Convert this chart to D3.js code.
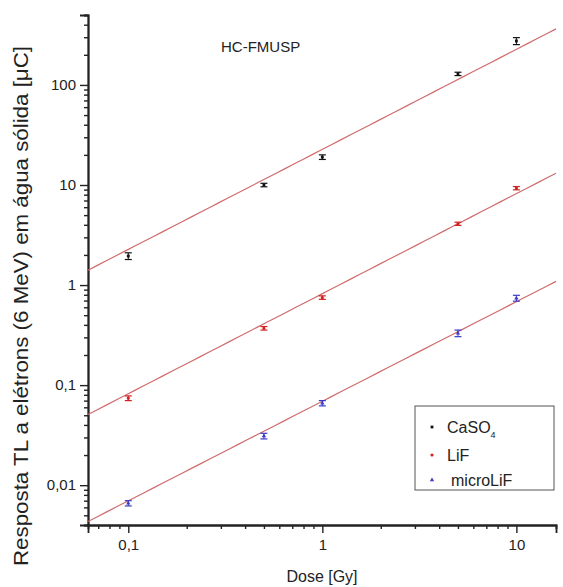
<!DOCTYPE html>
<html><head><meta charset="utf-8">
<script src="https://cdn.jsdelivr.net/npm/d3@7"></script>
<style>body{margin:0;background:#fff}svg{display:block}text{font-family:"Liberation Sans",Arial,sans-serif}</style>
</head><body>
<script>
const doses = [0.1, 0.5, 1, 5, 10];
const seriesNames = ["CaSO4", "LiF", "microLiF"];
const caso4 = [1.95, 10, 19, 129, 275];
const lif = [0.074, 0.37, 0.75, 4.1, 9.3];
const microlif = [0.0066, 0.031, 0.066, 0.33, 0.74];
const caso4Err = [0.15, 0.4, 1.0, 5, 22];
const lifErr = [0.004, 0.015, 0.03, 0.15, 0.35];
const microlifErr = [0.0004, 0.002, 0.004, 0.025, 0.05];
// linear fits y = a * x^b
const fitA = [22.7, 0.82, 0.069];
const fitB = [1.0, 1.0, 0.995];
const xTicksMajor = [0.1, 1, 10];
const xTickLabels = ["0,1", "1", "10"];
const yTicksMajor = [0.01, 0.1, 1, 10, 100];
const yTickLabels = ["0,01", "0,1", "1", "10", "100"];
const colors = ["#111111", "#d42020", "#3a3ac8"];

const W = 563, H = 587;
const svg = d3.select("body").append("svg").attr("width", W).attr("height", H);
const x = d3.scaleLog().domain([0.062, 16]).range([88, 556]);
const y = d3.scaleLog().domain([0.004, 500]).range([525, 15]);

function minorTicks(dom) {
  const out = [];
  for (let e = -4; e <= 3; e++) for (let m = 2; m <= 9; m++) {
    const v = m * Math.pow(10, e);
    if (v >= dom[0] * 0.999 && v <= dom[1] * 1.001) out.push(+v.toPrecision(3));
  }
  return out;
}

const xMinor = d3.axisBottom(x).tickValues(minorTicks(x.domain())).tickSize(4).tickFormat("");
const xMajor = d3.axisBottom(x).tickValues(xTicksMajor).tickSize(8).tickPadding(6)
  .tickFormat((d, i) => xTickLabels[i]);
const yMinor = d3.axisLeft(y).tickValues(minorTicks(y.domain())).tickSize(4).tickFormat("");
const yMajor = d3.axisLeft(y).tickValues(yTicksMajor).tickSize(8).tickPadding(4)
  .tickFormat((d, i) => yTickLabels[i]);

function styleAxis(g) {
  g.select(".domain").attr("stroke", "#222").attr("stroke-width", 1.8);
  g.selectAll(".tick line").attr("stroke", "#222").attr("stroke-width", 1.4);
  g.selectAll(".tick text").attr("fill", "#222").style("font-size", "15px")
    .style("font-family", "'Liberation Sans',Arial,sans-serif");
}
svg.append("g").attr("transform", "translate(0,525)").call(xMinor).call(styleAxis);
svg.append("g").attr("transform", "translate(0,525)").call(xMajor).call(styleAxis);
svg.append("g").attr("transform", "translate(88,0)").call(yMinor).call(styleAxis);
svg.append("g").attr("transform", "translate(88,0)").call(yMajor).call(styleAxis);

// fit lines
const xd = x.domain();
fitA.forEach((a, i) => {
  const pts = d3.range(0, 51).map(k => {
    const xv = Math.pow(10, Math.log10(xd[0]) + k / 50 * (Math.log10(xd[1]) - Math.log10(xd[0])));
    return [xv, a * Math.pow(xv, fitB[i])];
  });
  svg.append("path")
    .attr("d", d3.line().x(d => x(d[0])).y(d => y(d[1]))(pts))
    .attr("fill", "none").attr("stroke", "#cf6b6b").attr("stroke-width", 1.2);
});

// points with error bars
const allVals = [caso4, lif, microlif];
const allErr = [caso4Err, lifErr, microlifErr];
const symbols = [d3.symbolSquare, d3.symbolCircle, d3.symbolTriangle];
allVals.forEach((vals, i) => {
  const g = svg.append("g");
  vals.forEach((v, j) => {
    const cx = x(doses[j]);
    const y1 = y(v + allErr[i][j]), y2 = y(v - allErr[i][j]);
    g.append("line").attr("x1", cx).attr("x2", cx).attr("y1", y1).attr("y2", y2)
      .attr("stroke", colors[i]).attr("stroke-width", 1);
    [y1, y2].forEach(yy => g.append("line").attr("x1", cx - 3.5).attr("x2", cx + 3.5)
      .attr("y1", yy).attr("y2", yy).attr("stroke", colors[i]).attr("stroke-width", 1.2));
    g.append("path").attr("d", d3.symbol().type(symbols[i]).size(8)())
      .attr("transform", `translate(${cx},${y(v)})`).attr("fill", colors[i]);
  });
});

// title
svg.append("text").attr("x", 221).attr("y", 52).text("HC-FMUSP")
  .style("font-size", "15px").attr("fill", "#222");

// axis titles
svg.append("text").attr("x", 322).attr("y", 582).attr("text-anchor", "middle")
  .text("Dose [Gy]").style("font-size", "16px").attr("fill", "#222");
svg.append("text").attr("transform", "translate(28,306) rotate(-90)")
  .attr("text-anchor", "middle")
  .attr("textLength", 520).attr("lengthAdjust", "spacingAndGlyphs")
  .text("Resposta TL a elétrons (6 MeV) em água sólida [μC]")
  .style("font-size", "20px").attr("fill", "#222");

// legend
const lg = svg.append("g");
lg.append("rect").attr("x", 415).attr("y", 406).attr("width", 139).attr("height", 84)
  .attr("fill", "#fff").attr("stroke", "#555").attr("stroke-width", 1);
const legY = [428, 456, 481];
const legX = [447, 447, 451];
seriesNames.forEach((n, i) => {
  lg.append("path").attr("d", d3.symbol().type(symbols[i]).size(8)())
    .attr("transform", `translate(432,${legY[i] - 1})`).attr("fill", colors[i]);
  const t = lg.append("text").attr("x", legX[i]).attr("y", legY[i] + 5)
    .style("font-size", "16px").attr("fill", "#222");
  if (n === "CaSO4") {
    t.text("CaSO");
    t.append("tspan").attr("dy", 5).style("font-size", "9px").text("4");
  } else t.text(n);
});
</script>
</body></html>
